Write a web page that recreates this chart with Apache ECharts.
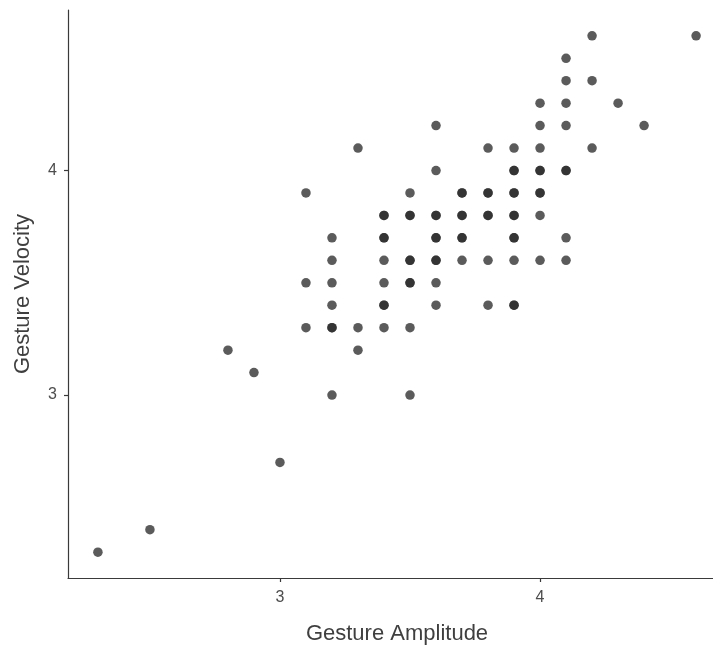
<!DOCTYPE html>
<html>
<head>
<meta charset="utf-8">
<title>Gesture Amplitude vs Velocity</title>
<script src="https://cdn.jsdelivr.net/npm/echarts@6/dist/echarts.min.js"></script>
<style>
  html, body { margin: 0; padding: 0; background: #fff; }
  #chart { width: 713px; height: 646px; }
</style>
</head>
<body>
<div id="chart"></div>
<script>
// amplitude columns and the velocities observed at each (repeats = overlapping points)
const amplitudes = [2.3, 2.5, 2.8, 2.9, 3.0, 3.1, 3.2, 3.3, 3.4, 3.5, 3.6, 3.7, 3.8, 3.9, 4.0, 4.1, 4.2, 4.3, 4.4, 4.6];
const velocitiesByAmplitude = [
  [2.3],
  [2.4],
  [3.2],
  [3.1],
  [2.7],
  [3.9, 3.5, 3.3],
  [3.7, 3.6, 3.5, 3.4, 3.3, 3.3, 3.0],
  [4.1, 3.3, 3.2],
  [3.8, 3.8, 3.7, 3.7, 3.6, 3.5, 3.4, 3.4, 3.3],
  [3.9, 3.8, 3.8, 3.6, 3.6, 3.5, 3.5, 3.3, 3.0],
  [4.2, 4.0, 3.8, 3.8, 3.7, 3.7, 3.6, 3.6, 3.5, 3.4],
  [3.9, 3.9, 3.8, 3.8, 3.7, 3.7, 3.6],
  [4.1, 3.9, 3.9, 3.8, 3.8, 3.6, 3.4],
  [4.1, 4.0, 4.0, 3.9, 3.9, 3.8, 3.8, 3.7, 3.7, 3.6, 3.4, 3.4],
  [4.3, 4.2, 4.1, 4.0, 4.0, 3.9, 3.9, 3.8, 3.6],
  [4.5, 4.4, 4.3, 4.2, 4.0, 4.0, 3.7, 3.6],
  [4.6, 4.4, 4.1],
  [4.3],
  [4.2],
  [4.6]
];
const xTicks = [3, 4];
const yTicks = [3, 4];

const points = [];
amplitudes.forEach((a, i) => {
  velocitiesByAmplitude[i].forEach(v => points.push([a, v]));
});

const chart = echarts.init(document.getElementById('chart'));

const axisColor = '#3a3a3a';
const labelStyle = { color: '#4d4d4d', fontSize: 16, fontFamily: 'Liberation Sans, Arial, sans-serif' };
const nameStyle = { color: '#3f3f3f', fontSize: 22, fontFamily: 'Liberation Sans, Arial, sans-serif' };

const option = {
  backgroundColor: '#fff',
  animation: false,
  // the panel runs a little past the right edge of the picture
  grid: { left: 68, right: -13, top: 10, bottom: 68, outerBoundsMode: 'none', containLabel: false },
  xAxis: {
    type: 'value',
    min: 2.185,
    max: 4.715,
    name: 'Gesture Amplitude',
    nameLocation: 'middle',
    nameGap: 45,
    nameTextStyle: nameStyle,
    splitLine: { show: false },
    axisLine: { show: true, onZero: false, lineStyle: { color: axisColor, width: 1.2 } },
    axisTick: { show: true, customValues: xTicks, length: 4, lineStyle: { color: axisColor, width: 1.2 } },
    axisLabel: Object.assign({ customValues: xTicks, margin: 12 }, labelStyle)
  },
  yAxis: {
    type: 'value',
    min: 2.185,
    max: 4.715,
    name: 'Gesture Velocity',
    nameLocation: 'middle',
    nameGap: 34,
    nameTextStyle: nameStyle,
    splitLine: { show: false },
    axisLine: { show: true, onZero: false, lineStyle: { color: axisColor, width: 1.2 } },
    axisTick: { show: true, customValues: yTicks, length: 4, lineStyle: { color: axisColor, width: 1.2 } },
    axisLabel: Object.assign({ customValues: yTicks, margin: 11 }, labelStyle)
  },
  series: [{
    type: 'scatter',
    data: points,
    symbol: 'circle',
    symbolSize: 9.5,
    itemStyle: { color: '#272727', opacity: 0.76 },
    emphasis: { disabled: true }
  }]
};

chart.setOption(option);
</script>
</body>
</html>
